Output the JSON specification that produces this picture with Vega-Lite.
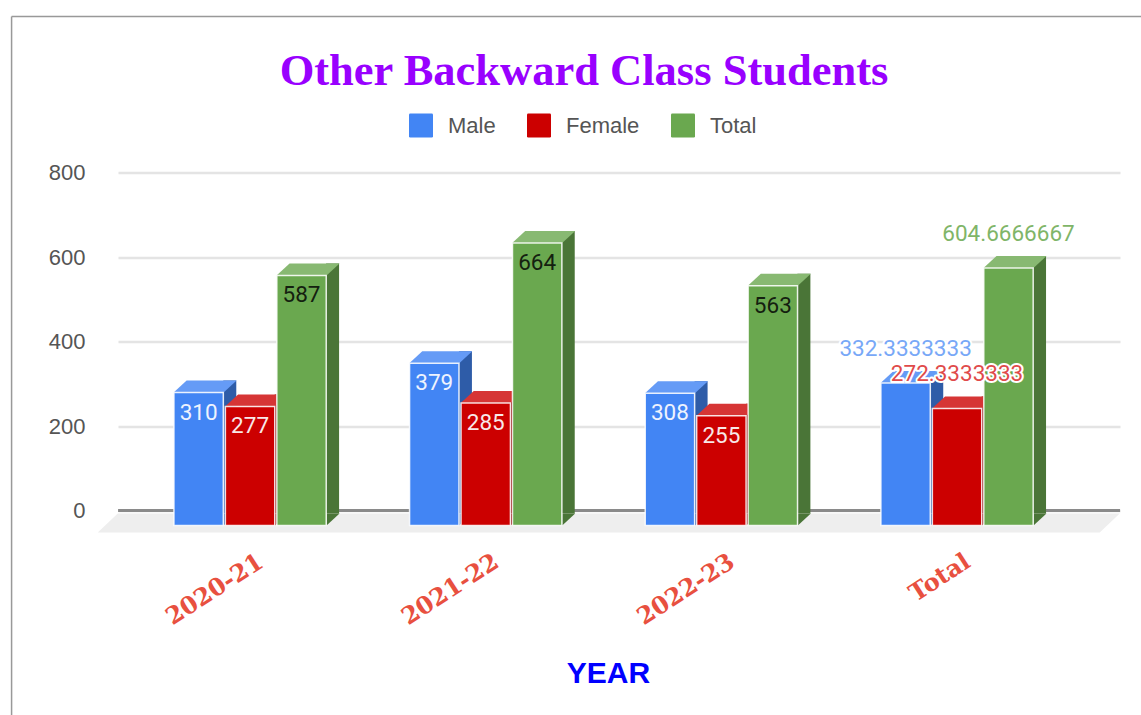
{
"$schema":"https://vega.github.io/schema/vega-lite/v6.json",
"width":1002,"height":338,
"autosize":{"type":"none"},
"padding":{"left":118,"top":172.5,"right":21,"bottom":204.5},
"background":"#ffffff",
"title":{"text":"Other Backward Class Students","anchor":"middle","frame":"group","dx":-35,"dy":101,"offset":0,"font":"Liberation Serif","fontWeight":"bold","fontSize":44.5,"color":"#9900ff","baseline":"middle"},
"config":{"view":{"stroke":null}},
"data":{"values":[
{"year":"2020-21","series":"Male","value":310,"label":"310"},
{"year":"2020-21","series":"Female","value":277,"label":"277"},
{"year":"2020-21","series":"Total","value":587,"label":"587"},
{"year":"2021-22","series":"Male","value":379,"label":"379"},
{"year":"2021-22","series":"Female","value":285,"label":"285"},
{"year":"2021-22","series":"Total","value":664,"label":"664"},
{"year":"2022-23","series":"Male","value":308,"label":"308"},
{"year":"2022-23","series":"Female","value":255,"label":"255"},
{"year":"2022-23","series":"Total","value":563,"label":"563"},
{"year":"Total","series":"Male","value":332.3333333,"label":"332.3333333"},
{"year":"Total","series":"Female","value":272.3333333,"label":"272.3333333"},
{"year":"Total","series":"Total","value":604.6666667,"label":"604.6666667"}
]},
"encoding":{
"x":{"field":"year","type":"nominal","sort":null,"scale":{"domain":["2020-21","2021-22","2022-23","Total"],"paddingInner":0,"paddingOuter":0.126,"align":0.24},
"axis":{"title":"YEAR","titleFont":"Liberation Sans","titleFontWeight":"bold","titleFontSize":30,"titleColor":"#0000ff","titleX":490,"titleY":163,"titleBaseline":"middle","titleAnchor":"middle","labelAngle":-33,"labelAlign":"right","labelBaseline":"middle","labelOffset":11,"labelPadding":49,"labelFont":"DejaVu Serif","labelFontWeight":"bold","labelFontSize":24,"labelColor":"#e8503f","labelOverlap":false,"labelBound":false,"labelFlush":false,"ticks":false,"domain":false,"grid":false}},
"y":{"field":"value","type":"quantitative","stack":null,"scale":{"domain":[0,800],"nice":false},
"axis":{"title":null,"values":[0,200,400,600,800],"domain":false,"ticks":false,"grid":true,"gridColor":"#e4e4e4","gridWidth":2.5,"labelFont":"Liberation Sans","labelFontSize":22,"labelColor":"#555555","labelPadding":33}}
},
"layer":[
{"transform":[{"filter":"datum.year === '2020-21' && datum.series === 'Male'"}],"mark":{"type":"rule","color":"#999999","strokeWidth":1.5,"xOffset":-238.5,"x2Offset":184,"yOffset":-156,"y2Offset":-156},"encoding":{"x":{"datum":"2020-21"},"x2":{"datum":"Total"},"y":{"datum":800}}},
{"transform":[{"filter":"datum.year === '2020-21' && datum.series === 'Male'"}],"mark":{"type":"rule","color":"#999999","strokeWidth":1.5,"xOffset":-238.5,"yOffset":-156,"y2Offset":205},"encoding":{"x":{"datum":"2020-21"},"y":{"datum":800},"y2":{"datum":0}}},
{"transform":[{"filter":"datum.year === '2020-21' && datum.series === 'Male'"}],"mark":{"type":"point","filled":true,"size":4,"shape":"M-368 3L634 3L614 22L-388 22Z","color":"#eeeeee","opacity":1,"strokeWidth":0},"encoding":{"x":{"datum":"2021-22"},"y":{"datum":0}}},
{"transform":[{"filter":"datum.year === '2020-21' && datum.series === 'Male'"}],"mark":{"type":"rule","color":"#8a8a8a","strokeWidth":3,"xOffset":-132,"x2Offset":163},"encoding":{"x":{"datum":"2020-21"},"x2":{"datum":"Total"},"y":{"datum":0}}},
{"transform":[{"filter":"datum.series === 'Male'"}],"mark":{"type":"rule","color":"#2e5ca8","strokeWidth":13,"xOffset":-20.3,"yOffset":1,"y2Offset":3},"encoding":{"y2":{"datum":0}}},
{"transform":[{"filter":"datum.series === 'Female'"}],"mark":{"type":"rule","color":"#8e0000","strokeWidth":13,"xOffset":31.1,"yOffset":1,"y2Offset":3},"encoding":{"y2":{"datum":0}}},
{"transform":[{"filter":"datum.series === 'Total'"}],"mark":{"type":"rule","color":"#4a7537","strokeWidth":13,"xOffset":82.5,"yOffset":1,"y2Offset":3},"encoding":{"y2":{"datum":0}}},
{"mark":{"type":"point","filled":true,"size":4,"opacity":1,"strokeWidth":0,"shape":"M25 3L38 3L25 15Z"},"encoding":{"xOffset":{"field":"series","type":"nominal","sort":null,"scale":{"domain":["Male","Female","Total"],"paddingInner":0.04,"paddingOuter":0.81}},"y":{"datum":0},"color":{"field":"series","type":"nominal","legend":null,"scale":{"domain":["Male","Female","Total"],"range":["#2e5ca8","#8e0000","#4a7537"]}}}},
{"mark":{"type":"point","filled":true,"size":4,"opacity":1,"strokeWidth":0,"shape":"M-25 13L25 13L38 1L-12 1Z"},"encoding":{"xOffset":{"field":"series","type":"nominal","sort":null},"color":{"field":"series","type":"nominal","legend":null,"scale":{"domain":["Male","Female","Total"],"range":["#659bf6","#d63535","#88b972"]}}}},
{"mark":{"type":"bar","yOffset":13,"y2Offset":15,"stroke":"#ffffff","strokeWidth":1.5,"strokeOpacity":0.85},"encoding":{"xOffset":{"field":"series","type":"nominal","sort":null},"y2":{"datum":0},"color":{"field":"series","type":"nominal","title":null,"scale":{"domain":["Male","Female","Total"],"range":["#4285f4","#cc0000","#6aa84f"]},"legend":{"orient":"none","legendX":291,"legendY":-59,"direction":"horizontal","padding":0,"symbolType":"M-1 -0.9Q-1 -1 -0.9 -1L0.9 -1Q1 -1 1 -0.9L1 0.9Q1 1 0.9 1L-0.9 1Q-1 1 -1 0.9Z","symbolSize":576,"symbolStrokeWidth":0,"symbolOpacity":1,"labelFont":"Liberation Sans","labelFontSize":22,"labelColor":"#555555","labelOffset":15,"columnPadding":31,"labelLimit":200}}}},
{"transform":[{"filter":"datum.year !== 'Total'"}],"mark":{"type":"text","font":"Roboto","fontSize":22.5,"baseline":"middle","dy":33},"encoding":{"xOffset":{"field":"series","type":"nominal","sort":null},"text":{"field":"label","type":"nominal"},"color":{"field":"series","type":"nominal","legend":null,"scale":{"domain":["Male","Female","Total"],"range":["#eef3fe","#f8e8e8","#14200f"]}}}},
{"transform":[{"filter":"datum.year === 'Total'"}],"mark":{"type":"text","font":"Roboto","fontSize":22.5,"baseline":"middle","dy":-21,"stroke":"#ffffff","strokeWidth":4,"strokeJoin":"round"},"encoding":{"xOffset":{"field":"series","type":"nominal","sort":null},"text":{"field":"label","type":"nominal"},"color":{"field":"series","type":"nominal","legend":null,"scale":{"domain":["Male","Female","Total"],"range":["#ffffff","#ffffff","#ffffff"]}}}},
{"transform":[{"filter":"datum.year === 'Total'"}],"mark":{"type":"text","font":"Roboto","fontSize":22.5,"baseline":"middle","dy":-21},"encoding":{"xOffset":{"field":"series","type":"nominal","sort":null},"text":{"field":"label","type":"nominal"},"color":{"field":"series","type":"nominal","legend":null,"scale":{"domain":["Male","Female","Total"],"range":["#78a8f7","#e04a4a","#7fb568"]}}}}
],
"resolve":{"scale":{"color":"independent"}}
}
